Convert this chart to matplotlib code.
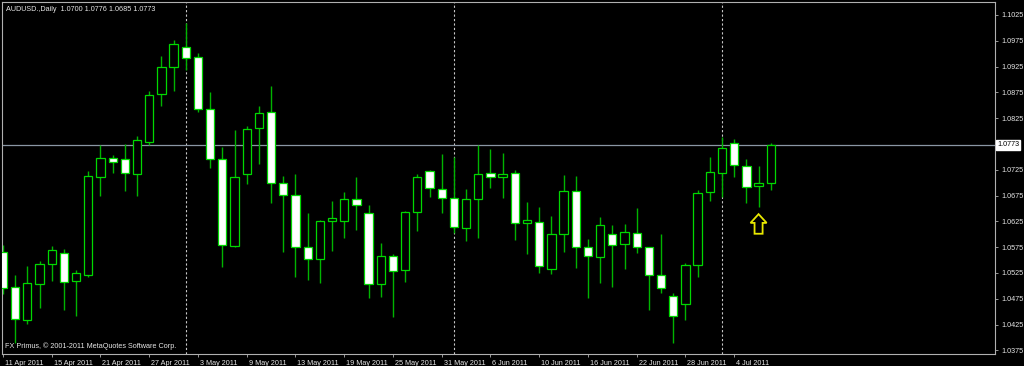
import numpy as np
import pandas as pd
import matplotlib
matplotlib.use("Agg")
import matplotlib.pyplot as plt
from matplotlib.patches import Rectangle, Polygon
from matplotlib import transforms

# AUDUSD daily candles, 11 Apr 2011 .. 7 Jul 2011
dates = pd.bdate_range("2011-04-11", "2011-07-07")

opens = [1.0566, 1.0497, 1.0434, 1.0503, 1.0542, 1.0563, 1.0510, 1.0522, 1.0710, 1.0747,
         1.0745, 1.0716, 1.0778, 1.0871, 1.0924, 1.0962, 1.0943, 1.0843, 1.0745, 1.0577,
         1.0716, 1.0805, 1.0836, 1.0699, 1.0676, 1.0576, 1.0553, 1.0625, 1.0626, 1.0668,
         1.0642, 1.0504, 1.0557, 1.0530, 1.0643, 1.0723, 1.0688, 1.0670, 1.0612, 1.0668,
         1.0718, 1.0711, 1.0718, 1.0622, 1.0624, 1.0533, 1.0600, 1.0684, 1.0575, 1.0555,
         1.0601, 1.0581, 1.0603, 1.0575, 1.0522, 1.0480, 1.0465, 1.0541, 1.0681, 1.0719,
         1.0776, 1.0733, 1.0694, 1.0700]
highs = [1.0579, 1.0522, 1.0539, 1.0549, 1.0578, 1.0572, 1.0531, 1.0723, 1.0773, 1.0754,
         1.0774, 1.0791, 1.0878, 1.0946, 1.0977, 1.1009, 1.0951, 1.0875, 1.0770, 1.0802,
         1.0810, 1.0849, 1.0887, 1.0713, 1.0716, 1.0642, 1.0628, 1.0665, 1.0681, 1.0710,
         1.0657, 1.0583, 1.0561, 1.0646, 1.0717, 1.0724, 1.0756, 1.0750, 1.0687, 1.0773,
         1.0765, 1.0757, 1.0725, 1.0663, 1.0652, 1.0635, 1.0715, 1.0713, 1.0590, 1.0634,
         1.0617, 1.0620, 1.0650, 1.0576, 1.0601, 1.0486, 1.0544, 1.0686, 1.0750, 1.0788,
         1.0784, 1.0745, 1.0732, 1.0776]
lows = [1.0484, 1.0389, 1.0427, 1.0457, 1.0510, 1.0453, 1.0442, 1.0517, 1.0675, 1.0719,
        1.0683, 1.0675, 1.0773, 1.0849, 1.0878, 1.0918, 1.0836, 1.0728, 1.0536, 1.0575,
        1.0697, 1.0736, 1.0661, 1.0566, 1.0518, 1.0511, 1.0505, 1.0568, 1.0593, 1.0608,
        1.0477, 1.0479, 1.0440, 1.0508, 1.0606, 1.0673, 1.0641, 1.0602, 1.0586, 1.0593,
        1.0690, 1.0671, 1.0588, 1.0561, 1.0524, 1.0523, 1.0566, 1.0534, 1.0477, 1.0505,
        1.0497, 1.0532, 1.0564, 1.0453, 1.0486, 1.0390, 1.0434, 1.0517, 1.0665, 1.0673,
        1.0710, 1.0661, 1.0652, 1.0685]
closes = [1.0495, 1.0436, 1.0505, 1.0542, 1.0570, 1.0508, 1.0524, 1.0713, 1.0747, 1.0740,
          1.0719, 1.0783, 1.0869, 1.0925, 1.0968, 1.0941, 1.0842, 1.0745, 1.0579, 1.0711,
          1.0804, 1.0834, 1.0699, 1.0677, 1.0575, 1.0552, 1.0626, 1.0631, 1.0668, 1.0656,
          1.0503, 1.0558, 1.0528, 1.0643, 1.0710, 1.0690, 1.0671, 1.0614, 1.0668, 1.0716,
          1.0711, 1.0716, 1.0622, 1.0627, 1.0539, 1.0600, 1.0683, 1.0576, 1.0557, 1.0617,
          1.0579, 1.0604, 1.0576, 1.0522, 1.0495, 1.0442, 1.0540, 1.0679, 1.0720, 1.0767,
          1.0734, 1.0692, 1.0699, 1.0773]

date_labels = ["11 Apr 2011", "15 Apr 2011", "21 Apr 2011", "27 Apr 2011", "3 May 2011",
               "9 May 2011", "13 May 2011", "19 May 2011", "25 May 2011", "31 May 2011",
               "6 Jun 2011", "10 Jun 2011", "16 Jun 2011", "22 Jun 2011", "28 Jun 2011",
               "4 Jul 2011"]
price_ticks = [1.0375, 1.0425, 1.0475, 1.0525, 1.0575, 1.0625, 1.0675, 1.0725,
               1.0825, 1.0875, 1.0925, 1.0975, 1.1025]
last_price = 1.0773

# arrow marker placed under the 6 Jul candle
arrow_date = "2011-07-06"
arrow_tip = 1.0639
arrow_neck = 1.0622
arrow_base = 1.0601

GREEN = "#00d800"
WICK = "#00b400"
FG = "#e6e6e6"
FONT = "Liberation Sans"

fig = plt.figure(figsize=(10.24, 3.66), dpi=100, facecolor="black")
ax = fig.add_axes([2 / 1024, 12 / 366, 993 / 1024, 352 / 366], facecolor="black")

x = np.arange(len(dates))
body_w = 0.68
for i in x:
    o, h, l, c = opens[i], highs[i], lows[i], closes[i]
    ax.vlines(i, l, h, color=WICK, lw=1.0, zorder=2)
    bottom = min(o, c)
    height = max(abs(c - o), 0.00006)
    face = "black" if c >= o else "white"
    ax.add_patch(Rectangle((i - body_w / 2, bottom), body_w, height,
                           facecolor=face, edgecolor=GREEN, lw=0.9, zorder=3))

# month separators
month_starts = [i for i in range(1, len(dates)) if dates[i].month != dates[i - 1].month]
for i in month_starts:
    ax.axvline(i, color="#c8c8c8", lw=0.8, ls=(0, (2, 2)), zorder=1)

# bid line
ax.axhline(last_price, color="#8a96a3", lw=0.9, zorder=1)

# yellow arrow
ai = list(dates.strftime("%Y-%m-%d")).index(arrow_date)
hw, sw = 0.66, 0.33
arrow = Polygon([(ai, arrow_tip), (ai + hw, arrow_neck), (ai + sw, arrow_neck),
                 (ai + sw, arrow_base), (ai - sw, arrow_base), (ai - sw, arrow_neck),
                 (ai - hw, arrow_neck)], closed=True, facecolor="none",
                edgecolor="#e8e800", lw=1.3, zorder=4)
ax.add_patch(arrow)

ax.set_xlim(-0.08, 81.4)
ax.set_ylim(1.0368, 1.1050)

for s in ax.spines.values():
    s.set_color("#b0b0b0")
    s.set_linewidth(0.8)

ax.yaxis.tick_right()
ax.set_yticks(price_ticks)
ax.set_yticklabels([f"{p:.4f}" for p in price_ticks], fontsize=5.2,
                   color=FG, family=FONT)
ax.tick_params(axis="y", length=2.5, width=0.6, color="#b0b0b0", pad=2)

tick_pos = [4 * k for k in range(len(date_labels))]
ax.set_xticks(tick_pos)
ax.set_xticklabels(date_labels, fontsize=5.2, color=FG, family=FONT, ha="left")
ax.tick_params(axis="x", length=2.5, width=0.6, color="#b0b0b0", pad=1.5)
offset = transforms.ScaledTranslation(2 / 100, 0, fig.dpi_scale_trans)
for lab in ax.get_xticklabels():
    lab.set_transform(lab.get_transform() + offset)

# current price box on the price scale
ax.text(1.002, last_price, f"{last_price:.4f}", transform=ax.get_yaxis_transform(),
        fontsize=5.2, family=FONT, color="black", va="center", ha="left",
        bbox=dict(boxstyle="square,pad=0.15", facecolor="white", edgecolor="white"))

ax.text(0.004, 0.988, "AUDUSD.,Daily  1.0700 1.0776 1.0685 1.0773", transform=ax.transAxes,
        fontsize=5.2, family=FONT, color=FG, va="top", ha="left")
ax.text(0.003, 0.012, "FX Primus, \u00a9 2001-2011 MetaQuotes Software Corp.",
        transform=ax.transAxes, fontsize=5.2, family=FONT, color=FG,
        va="bottom", ha="left")

fig.savefig("out.png", dpi=100, facecolor="black")
